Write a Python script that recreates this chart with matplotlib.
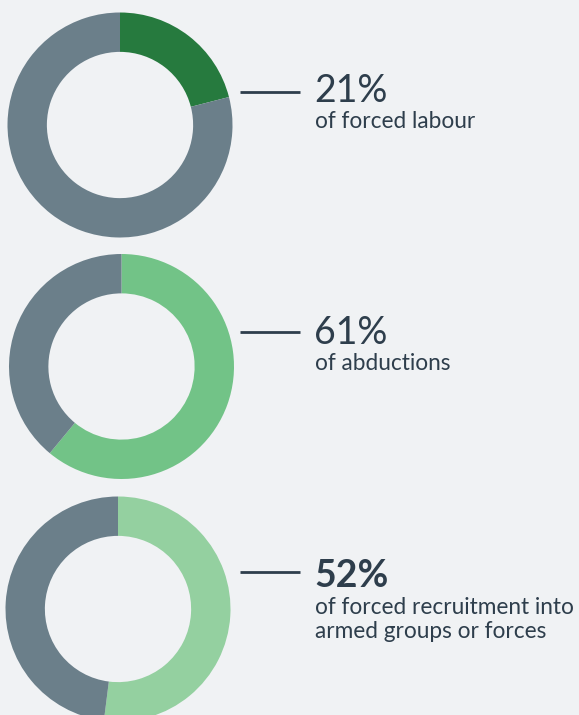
import matplotlib
matplotlib.use("Agg")
import matplotlib.pyplot as plt

# Data
percents = [21, 61, 52]
labels_pct = ["21%", "61%", "52%"]
descriptions = [["of forced labour"], ["of abductions"],
                ["of forced recruitment into", "armed groups or forces"]]
highlight_colors = ["#267a3e", "#72c387", "#94d0a0"]
rest_color = "#6b7f8a"
pct_weights = ["normal", "normal", "bold"]

W, H = 579, 715
BG = "#f0f2f4"
TXT = "#2e3e4c"
FAM = ["Lato", "DejaVu Sans"]

fig = plt.figure(figsize=(W / 100, H / 100), dpi=100, facecolor=BG)
ax = fig.add_axes([0, 0, 1, 1])
ax.set_facecolor(BG)

centers = [(120, 125), (121.5, 366.5), (118, 609)]
radius = 112.5
line_y = [92, 332, 572]
pct_base = [102, 344, 587]

for i, p in enumerate(percents):
    cx, cy = centers[i]
    ax.pie([p, 100 - p], colors=[highlight_colors[i], rest_color],
           startangle=90, counterclock=False, radius=radius,
           center=(cx, H - cy), wedgeprops=dict(width=radius * 0.35, linewidth=0),
           frame=True)
    ax.plot([240, 300], [H - line_y[i], H - line_y[i]], color=TXT, lw=2, solid_capstyle="butt")
    ax.text(314, H - pct_base[i], labels_pct[i], fontsize=27, fontweight=pct_weights[i],
            color=TXT, family=FAM, va="baseline", ha="left")
    for j, line in enumerate(descriptions[i]):
        ax.text(315, H - pct_base[i] - 26.5 - 25 * j, line, fontsize=16.3,
                color=TXT, family=FAM, va="baseline", ha="left")

ax.set_xlim(0, W)
ax.set_ylim(0, H)
ax.set_aspect("equal")
ax.axis("off")

fig.savefig("out.png", dpi=100, facecolor=BG)
